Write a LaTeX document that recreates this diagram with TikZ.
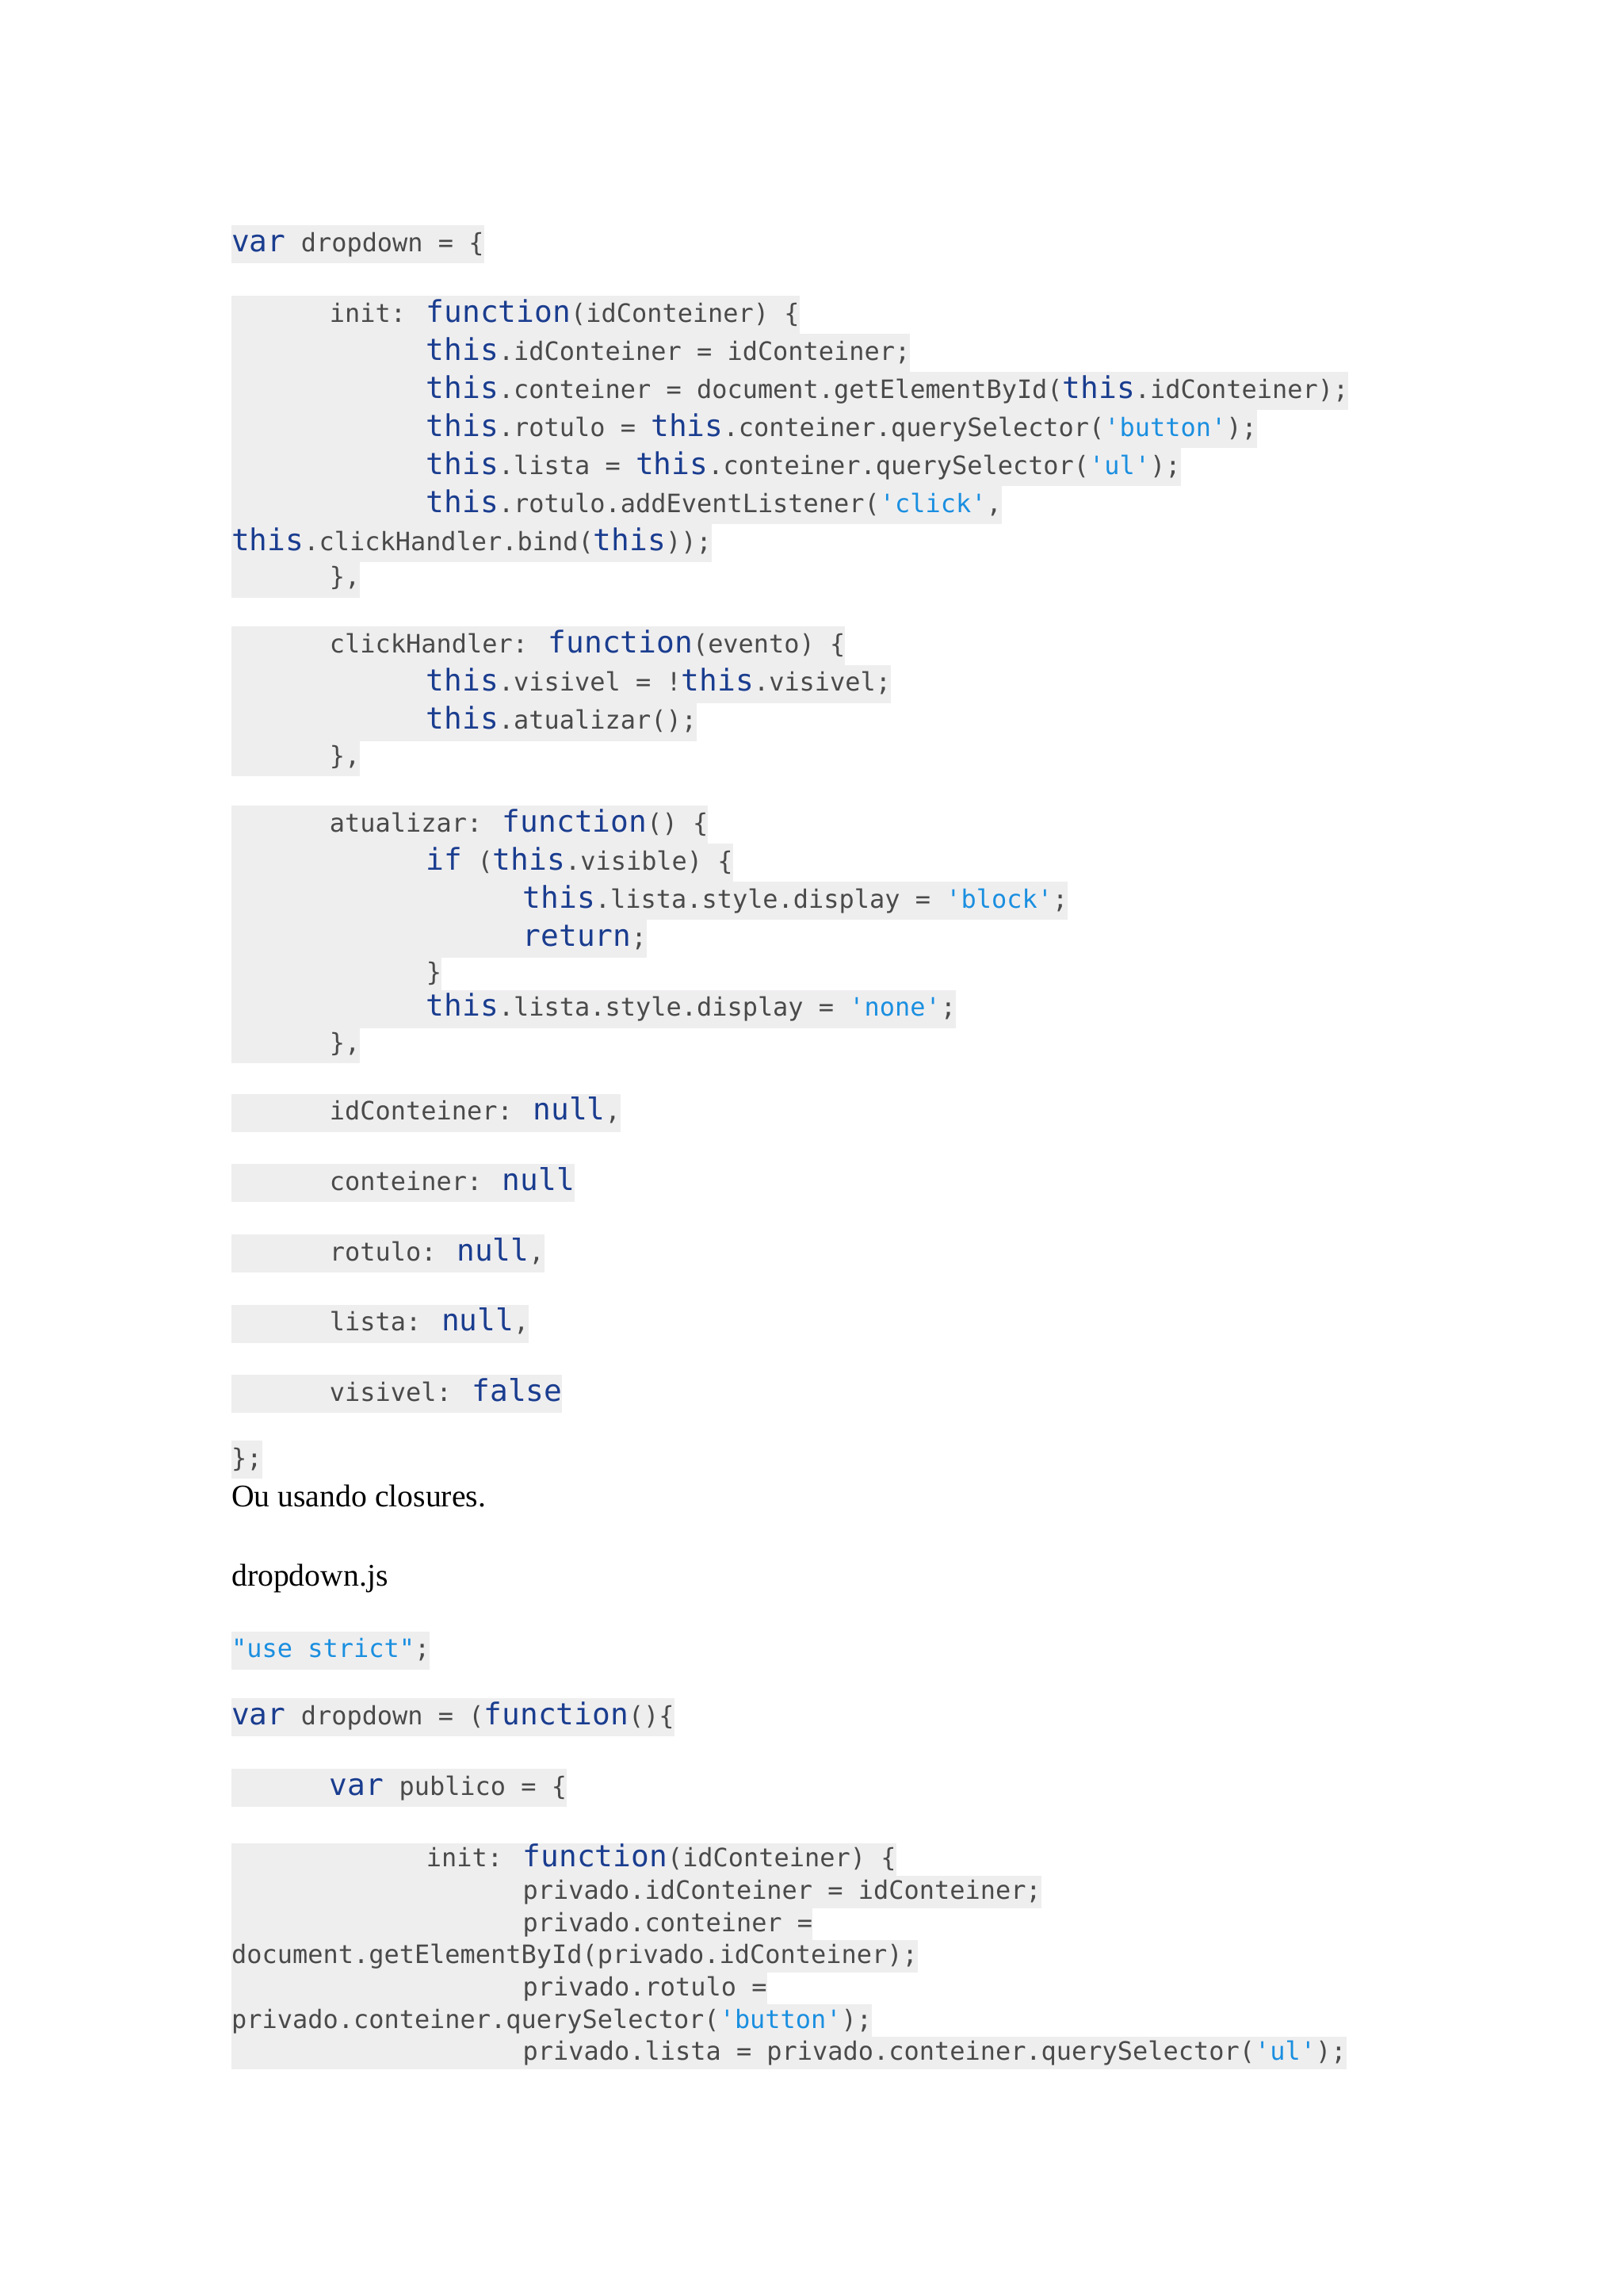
\documentclass[tikz,border=0pt]{standalone}
\usepackage{fontspec}
\setmainfont{Liberation Serif}
\newfontfamily\codef{DejaVu Sans Mono}
\definecolor{kw}{HTML}{1A3D8F}
\definecolor{st}{HTML}{1A8FE0}
\definecolor{tx}{HTML}{4A4A4A}
\definecolor{bg}{HTML}{EFEEEF}
\newcommand\kw[1]{{\color{kw}\fontsize{20.5}{20}\selectfont #1}}
\newcommand\st[1]{{\color{st}#1}}
\newcommand\q{\char"0027\relax}
\newcommand\dq{\char"0022\relax}
\newcommand\ia{\hspace*{67pt}}
\newcommand\ib{\hspace*{133pt}}
\newcommand\ic{\hspace*{199pt}}
\begin{document}
\begin{tikzpicture}[x=1pt,y=-1pt,
  cl/.style={anchor=base west,inner sep=0pt,fill=bg,text=tx,text height=18pt,text depth=8pt,font=\codef\fontsize{17.3}{20}\selectfont},
  cs/.style={cl,text height=16pt,text depth=6pt},
  pl/.style={anchor=base west,inner sep=0pt,font=\fontsize{21.5}{24}\selectfont}]
\useasboundingbox (0,0) rectangle (1109,1568);
\fill[white] (0,0) rectangle (1109,1568);
\node[cl] (l1) at (158,172) {\kw{var} dropdown = \{};
\node[cl] (a1) at (158,220) {\ia init: \kw{function}(idConteiner) \{};
\node[cl] (a2) at (158,246) {\ib\kw{this}.idConteiner = idConteiner;};
\node[cl] (a3) at (158,272) {\ib\kw{this}.conteiner = document.getElementById(\kw{this}.idConteiner);};
\node[cl] (a4) at (158,298) {\ib\kw{this}.rotulo = \kw{this}.conteiner.querySelector(\st{\q button\q});};
\node[cl] (a5) at (158,324) {\ib\kw{this}.lista = \kw{this}.conteiner.querySelector(\st{\q ul\q});};
\node[cl] (a6) at (158,350) {\ib\kw{this}.rotulo.addEventListener(\st{\q click\q},};
\node[cl] (a7) at (158,376) {\kw{this}.clickHandler.bind(\kw{this}));};
\node[cl] (a8) at (158,400) {\ia\},};
\node[cl] (b1) at (158,446) {\ia clickHandler: \kw{function}(evento) \{};
\node[cl] (b2) at (158,472) {\ib\kw{this}.visivel = !\kw{this}.visivel;};
\node[cl] (b3) at (158,498) {\ib\kw{this}.atualizar();};
\node[cl] (b4) at (158,522) {\ia\},};
\node[cl] (c1) at (158,568) {\ia atualizar: \kw{function}() \{};
\node[cl] (c2) at (158,594) {\ib\kw{if} (\kw{this}.visible) \{};
\node[cl] (c3) at (158,620) {\ic\kw{this}.lista.style.display = \st{\q block\q};};
\node[cl] (c4) at (158,646) {\ic\kw{return};};
\node[cl] (c5) at (158,670) {\ib\}};
\node[cl] (c6) at (158,694) {\ib\kw{this}.lista.style.display = \st{\q none\q};};
\node[cl] (c7) at (158,718) {\ia\},};
\node[cl] (d1) at (158,765) {\ia idConteiner: \kw{null},};
\node[cl] (d2) at (158,813) {\ia conteiner: \kw{null}};
\node[cl] (d3) at (158,861) {\ia rotulo: \kw{null},};
\node[cl] (d4) at (158,909) {\ia lista: \kw{null},};
\node[cl] (d5) at (158,957) {\ia visivel: \kw{false}};
\node[cl] (e1) at (158,1002) {\};};
\node[pl] (p1) at (158,1029) {Ou usando closures.};
\node[pl] (p2) at (158,1083) {dropdown.js};
\node[cl] (f1) at (158,1132) {\st{\dq use strict\dq};};
\node[cl] (f2) at (158,1178) {\kw{var} dropdown = (\kw{function}()\{};
\node[cl] (f3) at (158,1226) {\ia\kw{var} publico = \{};
\node[cs] (g1) at (158,1275) {\ib init: \kw{function}(idConteiner) \{};
\node[cs] (g2) at (158,1297) {\ic privado.idConteiner = idConteiner;};
\node[cs] (g3) at (158,1319) {\ic privado.conteiner =};
\node[cs] (g4) at (158,1341) {document.getElementById(privado.idConteiner);};
\node[cs] (g5) at (158,1363) {\ic privado.rotulo =};
\node[cs] (g6) at (158,1385) {privado.conteiner.querySelector(\st{\q button\q});};
\node[cs] (g7) at (158,1407) {\ic privado.lista = privado.conteiner.querySelector(\st{\q ul\q});};
\end{tikzpicture}
\end{document}
